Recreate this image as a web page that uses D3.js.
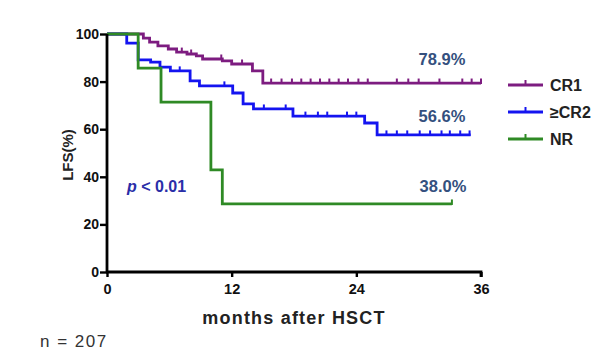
<!DOCTYPE html>
<html><head><meta charset="utf-8">
<script src="https://cdn.jsdelivr.net/npm/d3@7"></script>
<style>body{margin:0;background:#fff}svg{display:block}text{font-family:"Liberation Sans",Arial,sans-serif}</style>
</head><body><svg id="c" width="616" height="360"></svg>
<script>
// Step data: [month, LFS%]
const cr1Steps = [[0,100],[3.5,98.3],[4.1,96.6],[4.9,95.0],[5.9,93.7],[6.7,92.4],[7.7,91.6],[8.6,90.8],[9.2,89.5],[11.1,88.7],[12.0,87.4],[14.0,84.5],[15.0,79.4],[36,79.4]];
const cr1Censor = [7.2,8.1,11.0,13.0,15.8,16.8,17.8,18.7,19.6,20.5,21.4,22.3,23.2,24.2,25.1,27.9,29.0,30.0,32.0,34.2,35.1,36.0];
const cr2Steps = [[0,100],[1.9,96.2],[3.0,89.1],[4.2,88.2],[5.1,86.1],[6.1,84.5],[8.0,80.3],[8.9,78.2],[12.1,75.2],[13.1,70.6],[14.1,68.5],[17.9,65.5],[24.8,62.6],[26.0,57.6],[35.0,57.6]];
const cr2Censor = [7.0,11.3,15.1,17.2,19.1,20.3,21.2,23.1,24.0,26.9,27.9,28.9,30.1,31.1,32.2,33.0,34.0,34.9];
const nrSteps = [[0,100],[3.0,85.7],[5.2,71.4],[10.0,42.9],[11.1,28.6],[33.2,28.6]];
const nrCensor = [33.2];
const seriesNames = ["CR1","≥CR2","NR"];
const seriesColors = ["#7d1c80","#1414f0","#2f8a25"];
const endLabels = ["78.9%","56.6%","38.0%"];
const xTicks = [0,12,24,36];
const yTicks = [0,20,40,60,80,100];

const svg = d3.select("#c");
const x = d3.scaleLinear().domain([0,36]).range([107,481]);
const y = d3.scaleLinear().domain([0,100]).range([272,34]);

const series = [
  {steps:cr1Steps, censor:cr1Censor},
  {steps:cr2Steps, censor:cr2Censor},
  {steps:nrSteps, censor:nrCensor}
];
const line = d3.line().x(d=>x(d[0])).y(d=>y(d[1])).curve(d3.curveStepAfter);
function valAt(steps,t){let v=steps[0][1];for(const s of steps){if(s[0]<=t)v=s[1];}return v;}

[0,1,2].forEach(i=>{
  const s=series[i];
  svg.append("path").attr("d",line(s.steps)).attr("fill","none")
    .attr("stroke",seriesColors[i]).attr("stroke-width",2.8);
  svg.selectAll(null).data(s.censor).enter().append("line")
    .attr("x1",d=>x(d)).attr("x2",d=>x(d))
    .attr("y1",d=>y(valAt(s.steps,d))-4.5).attr("y2",d=>y(valAt(s.steps,d))+1)
    .attr("stroke",seriesColors[i]).attr("stroke-width",2);
});

// axes
const yAxis = d3.axisLeft(y).tickValues(yTicks).tickSize(7).tickSizeOuter(0);
const gy = svg.append("g").attr("transform","translate(107,0)").call(yAxis);
gy.select(".domain").attr("stroke","#000").attr("stroke-width",2.8).attr("d","M0,34V273");
gy.selectAll(".tick line").attr("stroke","#000").attr("stroke-width",2.4);
gy.selectAll(".tick text").attr("font-size",14).attr("font-weight","bold").attr("fill","#111").attr("x",-8);

const xAxis = d3.axisBottom(x).tickValues(xTicks).tickSize(5).tickSizeOuter(0);
const gx = svg.append("g").attr("transform","translate(0,272)").call(xAxis);
gx.select(".domain").attr("stroke","#000").attr("stroke-width",2.8).attr("d","M106,0H481V5");
gx.selectAll(".tick line").attr("stroke","#000").attr("stroke-width",2.4);
gx.selectAll(".tick text").attr("font-size",14.5).attr("font-weight","bold").attr("fill","#111").attr("y",12);

svg.append("text").attr("x",294).attr("y",324).attr("text-anchor","middle")
  .attr("font-size",18).attr("font-weight","bold").attr("letter-spacing",1.2).attr("fill","#222").text("months after HSCT");
svg.append("text").attr("transform","translate(73,155) rotate(-90)").attr("text-anchor","middle")
  .attr("font-size",15).attr("font-weight","bold").attr("fill","#222").text("LFS(%)");
svg.append("text").attr("x",40).attr("y",347).attr("font-size",17).attr("letter-spacing",1.5).attr("fill","#333").text("n = 207");

// end labels
const labelPos=[[442,65],[442,122],[443,192]];
endLabels.forEach((t,i)=>{
  svg.append("text").attr("x",labelPos[i][0]).attr("y",labelPos[i][1]).attr("text-anchor","middle")
   .attr("font-size",16.5).attr("font-weight","bold").attr("fill","#34507e").text(t);
});
const pt = svg.append("text").attr("x",127).attr("y",192).attr("font-size",16).attr("font-weight","bold").attr("fill","#2a2ea8");
pt.append("tspan").attr("font-style","italic").text("p");
pt.append("tspan").text(" < 0.01");

// legend
const lg = svg.append("g");
seriesNames.forEach((n,i)=>{
  const yy=85+i*27;
  lg.append("line").attr("x1",508).attr("x2",543).attr("y1",yy).attr("y2",yy).attr("stroke",seriesColors[i]).attr("stroke-width",3);
  lg.append("line").attr("x1",525.5).attr("x2",525.5).attr("y1",yy-5).attr("y2",yy).attr("stroke",seriesColors[i]).attr("stroke-width",2);
  lg.append("text").attr("x",550).attr("y",yy+6).attr("font-size",16).attr("font-weight","bold").attr("fill","#222").text(n);
});
</script></body></html>
